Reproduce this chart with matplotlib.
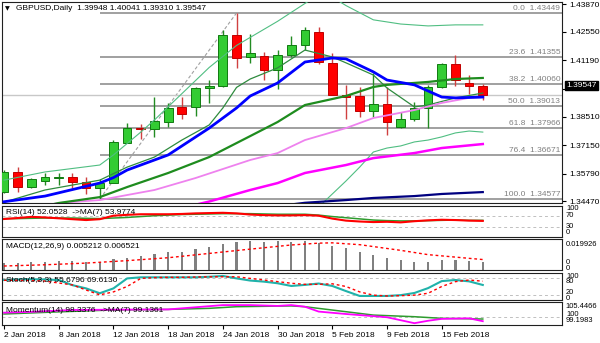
import matplotlib.pyplot as plt
import matplotlib.transforms as mtransforms
import numpy as np

plt.rcParams['font.family'] = ['Liberation Sans', 'DejaVu Sans']
FS = 6

# --- daily candles GBPUSD, 2 Jan .. 20 Feb 2018 ---
opens = [1.34926, 1.35880, 1.35164, 1.35451, 1.35565, 1.35641, 1.35403, 1.35088, 1.35355, 1.37263,
         1.37979, 1.37917, 1.38265, 1.38952, 1.38952, 1.39858, 1.39968, 1.42401, 1.41337, 1.41399,
         1.40731, 1.41447, 1.41924, 1.42558, 1.41051, 1.39539, 1.39491, 1.38790, 1.39109, 1.37998,
         1.38379, 1.38904, 1.39906, 1.41003, 1.40125, 1.39948]
highs = [1.35961, 1.36118, 1.35565, 1.35804, 1.35804, 1.35804, 1.35613, 1.35517, 1.37392, 1.38217,
         1.38155, 1.39429, 1.39143, 1.39429, 1.39906, 1.40254, 1.42639, 1.43449, 1.42434, 1.41604,
         1.41685, 1.42353, 1.42796, 1.42796, 1.41528, 1.40016, 1.39906, 1.40602, 1.39906, 1.38742,
         1.39219, 1.40016, 1.41079, 1.41447, 1.40493, 1.40041]
lows = [1.34864, 1.34926, 1.35088, 1.35246, 1.35246, 1.35088, 1.34816, 1.34577, 1.35327, 1.37235,
        1.37425, 1.37549, 1.38026, 1.38379, 1.38551, 1.39143, 1.39934, 1.40812, 1.41051, 1.40254,
        1.39810, 1.41365, 1.41685, 1.41017, 1.39515, 1.38379, 1.38475, 1.38475, 1.37631, 1.37988,
        1.38313, 1.37979, 1.39872, 1.39968, 1.39586, 1.39310]
closes = [1.35880, 1.35164, 1.35517, 1.35613, 1.35613, 1.35374, 1.35088, 1.35355, 1.37311, 1.37950,
          1.37917, 1.38313, 1.38904, 1.38618, 1.39858, 1.39968, 1.42401, 1.41289, 1.41528, 1.40731,
          1.41447, 1.41924, 1.42639, 1.41127, 1.39539, 1.39457, 1.38775, 1.39095, 1.38265, 1.38379,
          1.38904, 1.39906, 1.41003, 1.40254, 1.39968, 1.39547]

date_ticks = [0, 4, 8, 12, 16, 20, 24, 28, 32]
date_labels = ['2 Jan 2018', '8 Jan 2018', '12 Jan 2018', '18 Jan 2018', '24 Jan 2018',
               '30 Jan 2018', '5 Feb 2018', '9 Feb 2018', '15 Feb 2018']
price_ticks = [1.43870, 1.42550, 1.41190, 1.39830, 1.38510, 1.37150, 1.35790, 1.34470]

fib_names = ['0.0', '23.6', '38.2', '50.0', '61.8', '76.4', '100.0']
fib_prices = [1.43449, 1.41355, 1.40060, 1.39013, 1.37966, 1.36671, 1.34577]

# moving averages / bands (bar index, price)
blue_x = [0, 3, 7, 8, 9, 12, 15, 17, 18, 20, 22, 24, 25, 27, 28, 30, 32, 33, 35]
blue_y = [1.3445, 1.3472, 1.3534, 1.3560, 1.3596, 1.3668, 1.3796, 1.3892, 1.3949, 1.4011,
          1.4111, 1.4130, 1.4126, 1.4064, 1.4025, 1.4002, 1.3944, 1.3940, 1.3944]
dkgreen_x = [3, 4, 7, 9, 12, 15, 18, 20, 22, 25, 27, 28, 31, 33, 35]
dkgreen_y = [1.3425, 1.3439, 1.3467, 1.3515, 1.3582, 1.3658, 1.3758, 1.3825, 1.3906, 1.3949,
             1.3992, 1.4002, 1.4016, 1.4030, 1.4035]
thin_x = [0, 3, 7, 9, 11, 13, 15, 16, 17, 18, 20, 22, 24, 25, 27, 28, 30, 31, 33, 35]
thin_y = [1.3443, 1.3501, 1.3548, 1.3610, 1.3658, 1.3739, 1.3811, 1.3892, 1.3990, 1.4030,
          1.4083, 1.4168, 1.4135, 1.4107, 1.4049, 1.3987, 1.3897, 1.3906, 1.3940, 1.3963]
upper_x = [0, 3, 7, 8, 10, 11, 13, 15, 17, 20, 22, 23, 24, 25, 27, 29, 31, 33, 35]
upper_y = [1.3548, 1.3587, 1.3620, 1.3668, 1.3777, 1.3835, 1.3960, 1.4085, 1.4190, 1.4305,
           1.4390, 1.4430, 1.4420, 1.4380, 1.4312, 1.4292, 1.4283, 1.4288, 1.4288]
lower_x = [23, 24, 25, 26, 27, 28, 29, 30, 31, 32, 33, 34, 35]
lower_y = [1.3420, 1.3482, 1.3544, 1.3610, 1.3682, 1.3701, 1.3711, 1.3730, 1.3739, 1.3754,
           1.3773, 1.3782, 1.3777]
violet_x = [3, 4, 7, 11, 14, 18, 20, 22, 25, 27, 30, 32, 34, 35]
violet_y = [1.3425, 1.3439, 1.3453, 1.3501, 1.3558, 1.3644, 1.3677, 1.3739, 1.3796, 1.3844,
            1.3882, 1.3916, 1.3940, 1.3944]
magenta_x = [13, 15, 18, 20, 22, 25, 27, 30, 32, 35]
magenta_y = [1.3415, 1.3446, 1.3501, 1.3534, 1.3582, 1.3620, 1.3653, 1.3677, 1.3701, 1.3720]
navy_x = [21, 22, 25, 27, 30, 32, 35]
navy_y = [1.3432, 1.3440, 1.3453, 1.3463, 1.3472, 1.3482, 1.3491]

# indicators
rsi = [58.6, 62, 66, 64, 61, 58, 55, 58, 70, 73, 75, 75, 75, 76, 78, 79, 80, 78, 74, 72,
       71, 71, 72, 70, 60, 53, 50, 48, 49, 47, 51, 54, 56, 55, 53, 52.05]
rsi_ma = [60, 60, 61, 62, 62, 62, 61, 60, 62, 64, 67, 70, 72, 74, 75, 76, 77, 77, 77, 76,
          75, 75, 75, 72, 67, 63, 59, 55, 53, 52, 52, 53, 54, 55, 54, 53.98]
macd = [0.0042, 0.0044, 0.0049, 0.0051, 0.0056, 0.0054, 0.0047, 0.0047, 0.0067, 0.0077,
        0.0088, 0.0099, 0.0112, 0.0116, 0.0132, 0.0145, 0.0167, 0.0180, 0.0186, 0.0182,
        0.0186, 0.0182, 0.0188, 0.0175, 0.0153, 0.0138, 0.0116, 0.0095, 0.0077, 0.0062,
        0.0051, 0.0051, 0.0062, 0.0062, 0.0056, 0.005212]
signal_x = [0, 3, 6, 9, 12, 15, 18, 21, 23, 24, 26, 29, 31, 34, 35]
signal_y = [0.0023, 0.0031, 0.0042, 0.0058, 0.0077, 0.0105, 0.0133, 0.0160, 0.0172, 0.0174,
            0.0162, 0.0125, 0.0097, 0.0073, 0.006521]
stoch_k = [74, 76, 77, 76, 74, 55, 43, 25, 43, 80, 84, 84, 84, 84, 84, 86, 89, 80, 72, 68,
           62, 52, 56, 61, 52, 33, 15, 15, 15, 18, 26, 44, 70, 74, 69, 55.68]
stoch_d = [73, 73, 72, 70, 63, 56, 37, 19, 30, 50, 80, 83, 84, 84, 85, 86, 86, 86, 80, 74,
           68, 62, 58, 58, 60, 50, 30, 18, 15, 16, 18, 25, 50, 68, 74, 69.61]
mom_x = [0, 2, 5, 8, 12, 14, 16, 18, 20, 21, 22, 23, 25, 26, 28, 30, 31, 32, 33, 34, 35]
mom_y = [101.5, 101.8, 102.5, 102.6, 102.7, 103.5, 104.3, 104.3, 104.0, 104.3, 103.7, 101.9,
         101.0, 100.6, 99.8, 97.6, 98.5, 99.2, 99.3, 99.4, 98.34]
mom_ma_x = [0, 4, 8, 12, 15, 17, 21, 22, 25, 27, 30, 32, 35]
mom_ma_y = [101.0, 101.8, 102.5, 102.7, 103.1, 103.7, 104.0, 103.7, 101.85, 100.6, 100.0, 99.4, 99.14]

# --- figure layout in pixels ---
W, H = 600, 343
XMIN, XMAX = -0.146, 40.79
fig = plt.figure(figsize=(6, 3.43), dpi=100)


def px_axes(x0, y0, x1, y1):
    a = fig.add_axes([x0 / W, 1 - y1 / H, (x1 - x0) / W, (y1 - y0) / H])
    a.set_xlim(XMIN, XMAX)
    for s in a.spines.values():
        s.set_linewidth(0.8)
        s.set_color('#202020')
    a.set_xticks([])
    a.set_yticks([])
    return a


def ftext(x, y, s, **kw):
    kw.setdefault('fontsize', FS)
    kw.setdefault('va', 'center')
    return fig.text(x / W, 1 - y / H, s, **kw)


ax = px_axes(2, 2, 562, 203)
ax.set_ylim(1.3439, 1.4397)

idx = np.arange(len(opens))
o, h, l, c = map(np.array, (opens, highs, lows, closes))
up = c >= o
dn = ~up

# fibonacci
ax.hlines(fib_prices, 7, XMAX, color='#a0a0a0', lw=1.4, zorder=1)
ax.plot([7, 17], [fib_prices[-1], fib_prices[0]], color='#a0a0a0', lw=0.8, ls=(0, (3, 2)), zorder=1)
tr = mtransforms.blended_transform_factory(ax.transAxes, ax.transData)
for name, p in zip(fib_names, fib_prices):
    ax.text(0.997, p + 0.0006, f'{name}  {p:.5f}', transform=tr, ha='right', va='bottom',
            fontsize=FS, color='#808080')

ax.axhline(closes[-1], color='#c8c8c8', lw=1, zorder=1)

# candles
ax.vlines(idx[up], l[up], h[up], color='#228b22', lw=1, zorder=3)
ax.vlines(idx[dn], l[dn], h[dn], color='#d04040', lw=1, zorder=3)
ax.bar(idx[up], np.maximum(c[up] - o[up], 0.00015), bottom=o[up], width=0.64,
       color='#33cc33', edgecolor='#107a10', lw=0.7, zorder=4)
ax.bar(idx[dn], np.maximum(o[dn] - c[dn], 0.00015), bottom=c[dn], width=0.64,
       color='#ff0000', edgecolor='#c00000', lw=0.7, zorder=4)

# moving averages
ax.plot(upper_x, upper_y, color='#50be82', lw=0.8, zorder=5)
ax.plot(lower_x, lower_y, color='#50be82', lw=0.8, zorder=5)
ax.plot(thin_x, thin_y, color='#2e8b3e', lw=0.9, zorder=5)
ax.plot(violet_x, violet_y, color='#ee82ee', lw=1.3, zorder=5)
ax.plot(magenta_x, magenta_y, color='#ff00ff', lw=1.8, zorder=5)
ax.plot(navy_x, navy_y, color='#000080', lw=1.6, zorder=5)
ax.plot(dkgreen_x, dkgreen_y, color='#1e8c1e', lw=1.6, zorder=5)
ax.plot(blue_x, blue_y, color='#0000ff', lw=2, zorder=5)

ax.yaxis.tick_right()
ax.set_yticks(price_ticks)
ax.set_yticklabels([f'{p:.5f}' for p in price_ticks])
ax.tick_params(axis='y', length=3, pad=2, labelsize=FS, width=0.8)
ax.text(1.0075, 1.3997, f'{closes[-1]:.5f}', transform=tr, ha='left', va='center',
        fontsize=FS, color='white', zorder=10,
        bbox=dict(boxstyle='square,pad=0.12', fc='black', ec='black'))

ftext(4.5, 9, '\u25bc', fontsize=4.5, family='DejaVu Sans')
ftext(15.5, 9, 'GBPUSD,Daily  1.39948 1.40041 1.39310 1.39547')

dash = (0, (3, 3))
SFS = 5.4
# RSI
ar = px_axes(2, 206, 562, 237)
ar.set_ylim(-3.4, 103.4)
ar.axhline(70, color='#c0c0c0', lw=0.7, ls=dash)
ar.axhline(30, color='#c0c0c0', lw=0.7, ls=dash)
ar.plot(idx, rsi_ma, color='#2e9b2e', lw=1.1)
ar.plot(idx, rsi, color='#ff0000', lw=1.5)
ftext(6, 213, 'RSI(14) 52.0528  ->MA(7) 53.9774')
ftext(566, 208.5, '100', fontsize=SFS)
ftext(566, 215.5, '70', fontsize=SFS)
ftext(566, 226, '30', fontsize=SFS)
ftext(566, 233, '0', fontsize=SFS)

# MACD
am = px_axes(2, 239, 562, 270)
am.set_ylim(-0.0003, 0.0199)
am.bar(idx, macd, width=0.16, color='#808080')
am.plot(signal_x, signal_y, color='#ff0000', lw=1, ls=(0, (2, 2)))
ftext(6, 246.5, 'MACD(12,26,9) 0.005212 0.006521')
ftext(565.5, 244, '0.019926', fontsize=SFS)
ftext(566, 263, '0', fontsize=SFS)
ftext(566, 268.5, '0', fontsize=SFS)

# Stochastic
ast = px_axes(2, 273, 562, 300)
ast.set_ylim(0, 100)
ast.axhline(80, color='#c0c0c0', lw=0.7, ls=dash)
ast.axhline(20, color='#c0c0c0', lw=0.7, ls=dash)
ast.plot(idx, stoch_k, color='#20b2aa', lw=1.5)
ast.plot(idx, stoch_d, color='#ff0000', lw=1, ls=(0, (2, 2)))
ftext(6, 280, 'Stoch(5,3,3) 55.6796 69.6130')
ftext(566, 276, '100', fontsize=SFS)
ftext(566, 281.5, '80', fontsize=SFS)
ftext(566, 292.5, '20', fontsize=SFS)
ftext(566, 298, '0', fontsize=SFS)

# Momentum
amo = px_axes(2, 302, 562, 325)
amo.set_ylim(96.93, 105.4466)
amo.axhline(100, color='#c0c0c0', lw=0.7, ls=dash)
amo.plot(mom_ma_x, mom_ma_y, color='#2e9b2e', lw=1.1)
amo.plot(mom_x, mom_y, color='#ff00ff', lw=1.3)
ftext(6, 310, 'Momentum(14) 98.3376  ->MA(7) 99.1361')
ftext(565.5, 306.5, '105.4466', fontsize=SFS)
ftext(566, 314, '100', fontsize=SFS)
ftext(566, 320.5, '99.1983', fontsize=SFS)

amo.set_xticks(date_ticks)
amo.set_xticklabels(date_labels, ha='left')
amo.tick_params(axis='x', length=3, pad=2, labelsize=FS, width=0.8)

fig.savefig('out.png', dpi=100)
